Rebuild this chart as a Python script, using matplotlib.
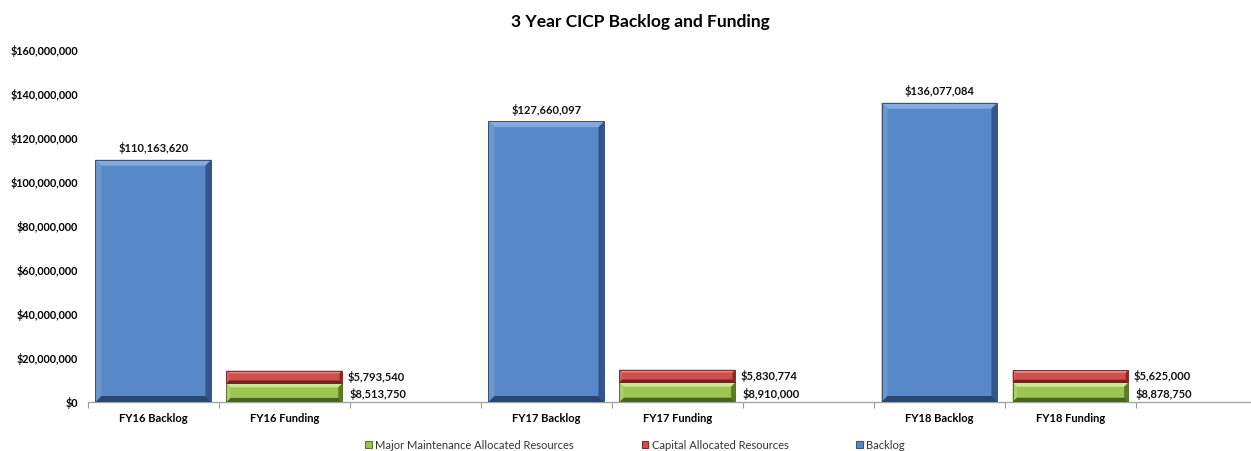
import matplotlib.pyplot as plt
from matplotlib.patches import Polygon, Rectangle
from matplotlib.ticker import FuncFormatter

plt.rcParams['font.family'] = ['Lato', 'DejaVu Sans']

# category slots along the x axis (empty slots separate the years)
categories = ["FY16 Backlog", "FY16 Funding", "", "FY17 Backlog", "FY17 Funding", "",
              "FY18 Backlog", "FY18 Funding"]
backlog_pos = [0, 3, 6]
funding_pos = [1, 4, 7]

backlog = [110163620, 127660097, 136077084]
major_maint = [8513750, 8910000, 8878750]
capital = [5793540, 5830774, 5625000]

# face, top, left, right, bottom shades for the bevelled look
BLUE = ['#5789c9', '#84abdc', '#6b97d0', '#34568a', '#2a466f']
RED = ['#cf4f4c', '#ea8784', '#d8615e', '#842b29', '#6d2120']
GREEN = ['#9cc553', '#c9e891', '#acd065', '#5b7a2a', '#4b6322']


def bevel(ax, rect, shades, px=6):
    # draw a bevelled box over the plain bar rectangle
    x0, y0 = rect.get_x(), rect.get_y()
    x1, y1 = x0 + rect.get_width(), y0 + rect.get_height()
    fig = ax.figure
    bbox = ax.get_position()
    xpx = fig.get_figwidth() * fig.dpi * bbox.width / (ax.get_xlim()[1] - ax.get_xlim()[0])
    ypx = fig.get_figheight() * fig.dpi * bbox.height / (ax.get_ylim()[1] - ax.get_ylim()[0])
    hpx = (y1 - y0) * ypx
    b = min(px, hpx * 0.22)
    bx, by = b / xpx, b / ypx
    ix0, ix1, iy0, iy1 = x0 + bx, x1 - bx, y0 + by, y1 - by
    face, top, left, right, bottom = shades
    ax.add_patch(Rectangle((x0, y0), x1 - x0, y1 - y0, fc=face, ec='none', zorder=3))
    ax.add_patch(Polygon([(x0, y1), (x1, y1), (ix1, iy1), (ix0, iy1)], fc=top, ec='none', zorder=4))
    ax.add_patch(Polygon([(x0, y0), (x0, y1), (ix0, iy1), (ix0, iy0)], fc=left, ec='none', zorder=4))
    ax.add_patch(Polygon([(x1, y0), (x1, y1), (ix1, iy1), (ix1, iy0)], fc=right, ec='none', zorder=4))
    ax.add_patch(Polygon([(x0, y0), (x1, y0), (ix1, iy0), (ix0, iy0)], fc=bottom, ec='none', zorder=4))
    ax.add_patch(Rectangle((x0, y0), x1 - x0, y1 - y0, fc='none', ec=bottom, lw=0.6, zorder=5))


fig = plt.figure(figsize=(12.51, 4.51), dpi=100)
ax = fig.add_axes([0.0703, 0.1086, 0.9297, 0.7805])

ax.set_xlim(-0.5, 8.378)
ax.set_ylim(0, 160000000)

width = 0.885
b_bars = ax.bar(backlog_pos, backlog, width=width, color='none', label='Backlog')
g_bars = ax.bar(funding_pos, major_maint, width=width, color='none')
r_bars = ax.bar(funding_pos, capital, width=width, bottom=major_maint, color='none')

for rect in b_bars:
    bevel(ax, rect, BLUE, px=6)
for rect in g_bars:
    bevel(ax, rect, GREEN, px=5)
for rect in r_bars:
    bevel(ax, rect, RED, px=5)

# value labels
for x, v in zip(backlog_pos, backlog):
    ax.annotate(f"${v:,.0f}", (x, v), xytext=(0, 4), textcoords='offset points',
                ha='center', va='bottom', fontsize=8, fontweight='bold', color='#111111')
for x, g, r in zip(funding_pos, major_maint, capital):
    ax.annotate(f"${g:,.0f}", (x + width / 2, g / 2), xytext=(5, -1), textcoords='offset points',
                ha='left', va='center', fontsize=8, fontweight='bold', color='#111111')
    ax.annotate(f"${r:,.0f}", (x + width / 2, g + r / 2), xytext=(4, 0), textcoords='offset points',
                ha='left', va='center', fontsize=8, fontweight='bold', color='#111111')

# axes styling
ax.yaxis.set_major_locator(plt.MultipleLocator(20000000))
ax.yaxis.set_major_formatter(FuncFormatter(lambda v, p: f"${v:,.0f}"))
ax.tick_params(axis='y', length=0, pad=7, labelsize=7.8)
for lab in ax.get_yticklabels():
    lab.set_fontweight('bold')

ax.set_xticks(range(len(categories)))
ax.set_xticklabels(categories, fontsize=8, fontweight='bold')
ax.tick_params(axis='x', length=0, pad=8)
ax.set_xticks([i - 0.5 for i in range(len(categories) + 1)], minor=True)
ax.tick_params(axis='x', which='minor', length=4, color='#9a9a9a', width=0.8)

for side in ['top', 'right', 'left']:
    ax.spines[side].set_visible(False)
ax.spines['bottom'].set_color('#a6a6a6')
ax.spines['bottom'].set_linewidth(1)

fig.suptitle('3 Year CICP Backlog and Funding', x=0.5116, y=0.951, va='center',
             fontsize=12.5, fontweight='bold')

handles = [Rectangle((0, 0), 1, 1, fc=GREEN[0], ec=GREEN[3], lw=0.8),
           Rectangle((0, 0), 1, 1, fc=RED[0], ec=RED[3], lw=0.8),
           Rectangle((0, 0), 1, 1, fc=BLUE[0], ec=BLUE[3], lw=0.8)]
labels = ['Major Maintenance Allocated Resources', 'Capital Allocated Resources', 'Backlog']
fig.legend(handles, labels, loc='center', bbox_to_anchor=(0.5076, 0.013), ncol=3, frameon=False,
           fontsize=8, handlelength=0.6, handleheight=0.6, handletextpad=0.3,
           columnspacing=6.1, labelcolor='#333333')

fig.savefig('out.png', dpi=100)
